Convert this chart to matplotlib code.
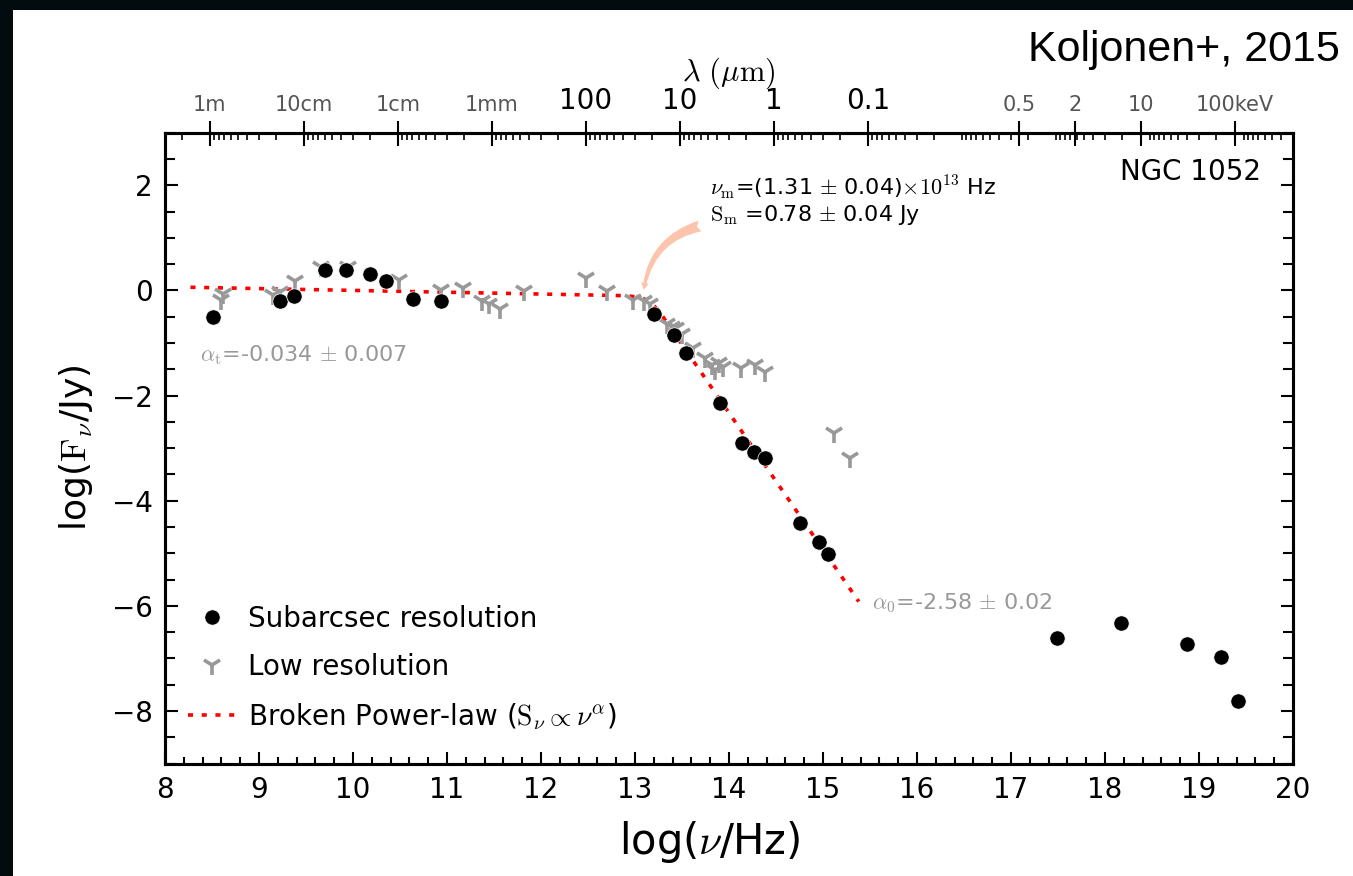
import numpy as np
import matplotlib
matplotlib.use("Agg")
import matplotlib.pyplot as plt
from matplotlib.patches import Rectangle

plt.rcParams['mathtext.fontset'] = 'cm'
plt.rcParams['font.family'] = ['DejaVu Sans']

# --- DATA ---
# subarcsec resolution points: log(nu/Hz), log(F/Jy)
hi_x = [8.51, 9.22, 9.37, 9.70, 9.92, 10.18, 10.35, 10.64, 10.94,
        13.20, 13.41, 13.54, 13.90, 14.14, 14.27, 14.38, 14.75, 14.96, 15.05,
        17.49, 18.17, 18.87, 19.23, 19.41]
hi_y = [-0.51, -0.20, -0.11, 0.39, 0.39, 0.31, 0.18, -0.16, -0.20,
        -0.45, -0.85, -1.20, -2.14, -2.90, -3.08, -3.18, -4.43, -4.78, -5.02,
        -6.61, -6.32, -6.73, -6.98, -7.81]

# low resolution points
lo_x = [8.59, 8.62, 9.15, 9.22, 9.38, 9.66, 9.95, 10.49, 10.94, 11.17,
        11.37, 11.45, 11.56, 11.82, 12.48, 12.70, 12.98, 13.09, 13.16,
        13.34, 13.39, 13.44, 13.50, 13.62, 13.74, 13.82, 13.85, 13.89, 13.94,
        14.13, 14.28, 14.38, 15.12, 15.29]
lo_y = [-0.18, -0.07, -0.08, -0.03, 0.17, 0.45, 0.45, 0.20, 0.01, 0.05,
        -0.21, -0.25, -0.35, -0.01, 0.23, -0.02, -0.18, -0.20, -0.25,
        -0.63, -0.69, -0.72, -0.82, -1.10, -1.29, -1.42, -1.52, -1.39, -1.45,
        -1.48, -1.42, -1.55, -2.72, -3.19]

# broken power-law fit, vertices
fit_x = [8.27, 12.90, 13.05, 13.15, 13.25, 13.35, 15.38]
fit_y = [0.06, -0.10, -0.13, -0.20, -0.38, -0.64, -5.92]

# top axis labels
wl_m = [1.0, 0.1, 0.01, 1e-3, 1e-4, 1e-5, 1e-6, 1e-7]
wl_labels = ['1m', '10cm', '1cm', '1mm', '100', '10', '1', '0.1']
kev = [0.5, 2, 10, 100]
kev_labels = ['0.5', '2', '10', '100keV']

c_light = 2.998e8
h_kev = 4.1357e-18  # keV s

# --- FIGURE ---
fig = plt.figure(figsize=(13.53, 8.76), dpi=100, facecolor='white')
# dark frame on the left and top edges
fig.patches.append(Rectangle((0, 0), 13/1353, 1, transform=fig.transFigure,
                             facecolor='#020c0f', edgecolor='none', zorder=-5))
fig.patches.append(Rectangle((0, 866/876), 1, 10/876, transform=fig.transFigure,
                             facecolor='#020c0f', edgecolor='none', zorder=-5))

ax = fig.add_axes([0.1220, 0.1284, 0.8337, 0.7201])
ax.set_facecolor('white')

ax.plot(fit_x, fit_y, color='red', lw=2.6, linestyle=(0, (1.4, 2.4)), zorder=2,
        label=r'Broken Power-law ($\rm S_\nu \propto \nu^\alpha$)')
ax.plot(lo_x, lo_y, linestyle='none', marker='1', markersize=15, mew=2.6,
        color='#999999', zorder=3, label='Low resolution')
ax.plot(hi_x, hi_y, linestyle='none', marker='o', markersize=11, color='black',
        mec='white', mew=0.5, zorder=4, label='Subarcsec resolution')

ax.set_xlim(8, 20)
ax.set_ylim(-9, 3)
ax.set_xticks(np.arange(8, 21, 1))
ax.set_xticks(np.arange(8, 20.01, 0.2), minor=True)
ax.set_yticks([-8, -6, -4, -2, 0, 2])
ax.set_yticks(np.arange(-9, 3.01, 0.5), minor=True)
ax.tick_params(which='both', direction='in', top=False, right=True, width=1.5)
ax.tick_params(axis='x', which='major', length=9, labelsize=20, pad=9)
ax.tick_params(axis='x', which='minor', length=5)
ax.tick_params(axis='y', which='major', length=9, labelsize=20, pad=9)
ax.tick_params(axis='y', which='minor', length=7)
for sp in ax.spines.values():
    sp.set_linewidth(2.2)

ax.set_xlabel(r'log($\nu$/Hz)', fontsize=30)
ax.xaxis.set_label_coords(0.483, -0.088)
ax.set_ylabel(r'log($\rm F_\nu$/Jy)', fontsize=26, labelpad=12)

# legend
h, l = ax.get_legend_handles_labels()
order = [2, 1, 0]
ax.legend([h[i] for i in order], [l[i] for i in order], loc='lower left',
          bbox_to_anchor=(0.0106, 0.033), borderaxespad=0,
          frameon=False, fontsize=20, handlelength=1.7, handletextpad=0.45,
          labelspacing=0.72, numpoints=1)

# annotations
ax.text(0.972, 0.938, 'NGC 1052', transform=ax.transAxes, ha='right', va='center',
        fontsize=20)
ax.text(8.37, -1.24, r'$\alpha_{\rm t}$=-0.034 $\pm$ 0.007', color='#999999',
        fontsize=16, va='center')
ax.text(15.52, -5.95, r'$\alpha_0$=-2.58 $\pm$ 0.02', color='#999999',
        fontsize=16, va='center')
ax.text(13.80, 1.97, r'$\nu_{\rm m}$=(1.31 $\pm$ 0.04)$\times10^{13}$ Hz',
        fontsize=16, va='center')
ax.text(13.80, 1.43, r'$\rm S_m$ =0.78 $\pm$ 0.04 Jy', fontsize=16, va='center')
ax.annotate('', xy=(13.09, -0.04), xytext=(13.72, 1.24),
            arrowprops=dict(arrowstyle='fancy,head_length=0.55,head_width=0.55,tail_width=0.8',
                            color='#fcc4ad', connectionstyle='arc3,rad=0.35', lw=0))

# top axis: wavelength / energy
ax2 = ax.twiny()
ax2.set_xlim(ax.get_xlim())
wl_pos = [np.log10(c_light / w) for w in wl_m]
kev_pos = [np.log10(e / h_kev) for e in kev]
ax2.set_xticks(wl_pos + kev_pos)
ax2.set_xticklabels(wl_labels + kev_labels)
minor = []
for n in range(-13, 2):
    for k in range(1, 10):
        p = np.log10(c_light / (k * 10.0**n))
        if 8 < p < 20 and not any(abs(p - q) < 1e-6 for q in wl_pos):
            minor.append(p)
ax2.set_xticks(minor, minor=True)
ax2.tick_params(which='major', direction='inout', length=18, width=1.5, pad=4)
ax2.tick_params(which='minor', direction='in', length=5, width=1.2)
for i, lab in enumerate(ax2.get_xticklabels()):
    if 4 <= i <= 7:
        lab.set_fontsize(20)
        lab.set_color('black')
    else:
        lab.set_fontsize(15)
        lab.set_color('#555555')
ax2.set_xlabel(r'$\lambda\ (\mu{\rm m})$', fontsize=22, labelpad=4)
for sp in ax2.spines.values():
    sp.set_linewidth(2.2)

fig.text(0.990, 0.943, 'Koljonen+, 2015', ha='right', va='center', fontsize=31,
         family=['Liberation Sans', 'DejaVu Sans'])

fig.savefig('out.png', dpi=100, facecolor=fig.get_facecolor())
